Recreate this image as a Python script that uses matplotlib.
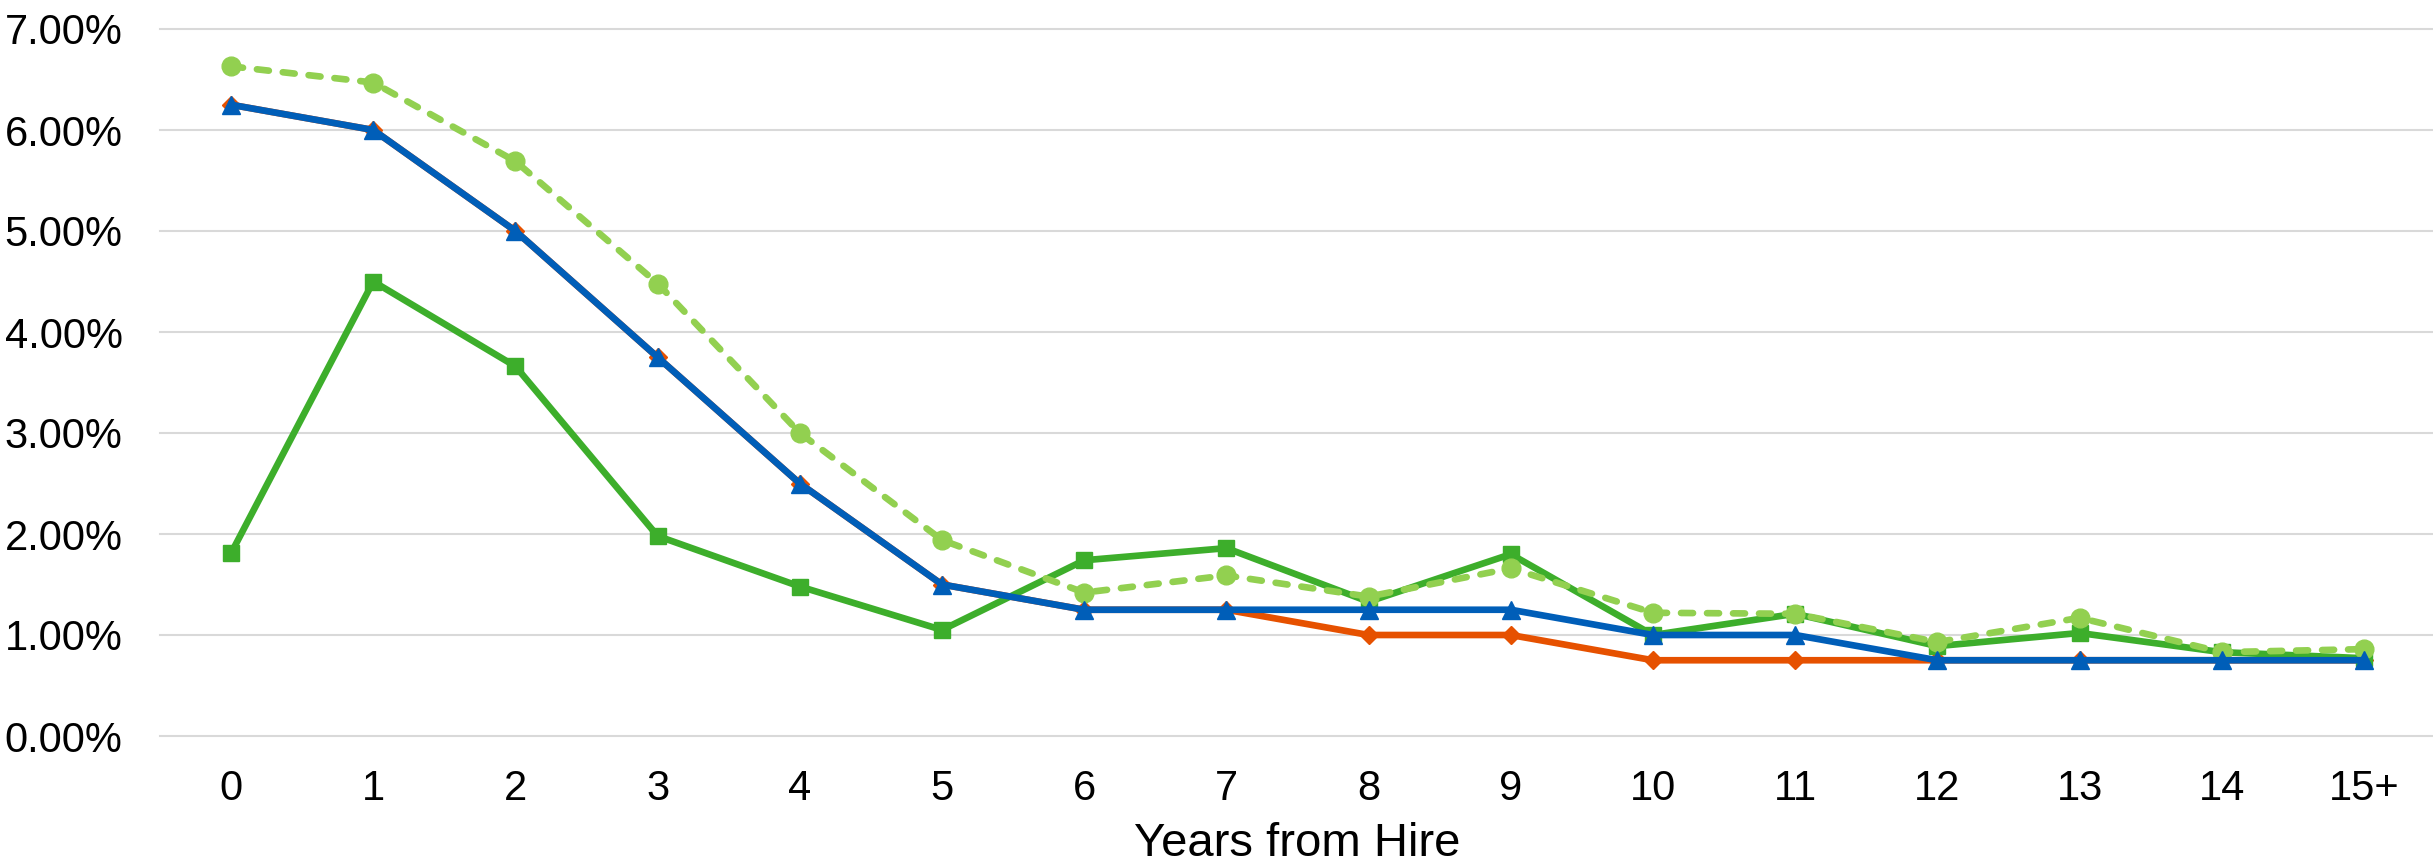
import matplotlib
matplotlib.use("Agg")
import matplotlib.pyplot as plt
from matplotlib.ticker import FuncFormatter, MultipleLocator

# Years from hire (categorical x axis)
categories = ["0", "1", "2", "3", "4", "5", "6", "7", "8", "9",
              "10", "11", "12", "13", "14", "15+"]

# Rates in percent
orange_rates = [6.25, 6.00, 5.00, 3.75, 2.50, 1.50, 1.25, 1.25, 1.00, 1.00,
                0.75, 0.75, 0.75, 0.75, 0.75, 0.75]
blue_rates = [6.25, 6.00, 5.00, 3.75, 2.50, 1.50, 1.25, 1.25, 1.25, 1.25,
              1.00, 1.00, 0.75, 0.75, 0.75, 0.75]
green_rates = [1.81, 4.50, 3.66, 1.98, 1.48, 1.05, 1.74, 1.86, 1.33, 1.80,
               1.00, 1.21, 0.89, 1.02, 0.83, 0.77]
lightgreen_rates = [6.63, 6.47, 5.69, 4.48, 3.00, 1.94, 1.42, 1.59, 1.38, 1.66,
                    1.22, 1.21, 0.93, 1.17, 0.83, 0.86]

plt.rcParams["font.family"] = ["Liberation Sans", "DejaVu Sans"]

W, H = 2433, 866
fig = plt.figure(figsize=(W / 100, H / 100), dpi=100)
left, right, top, bottom = 160, 2435, 29, 736
ax = fig.add_axes([left / W, (H - bottom) / H, (right - left) / W, (bottom - top) / H])

x = list(range(len(categories)))
lw = 4.8

ax.plot(x, orange_rates, color="#E65100", lw=lw, marker="D", ms=9.5,
        zorder=3)
ax.plot(x, green_rates, color="#3DAE2B", lw=lw, marker="s", ms=12, zorder=4)
ax.plot(x, lightgreen_rates, color="#92D050", lw=lw, marker="o", ms=13.5,
        dashes=(1.8, 2.1), dash_capstyle="round", zorder=5)
ax.plot(x, blue_rates, color="#005EB8", lw=lw, marker="^", ms=13, zorder=6)

ax.set_xlim(-0.5, len(categories) - 0.5)
ax.set_ylim(0, 7)
ax.set_xticks(x)
ax.set_xticklabels(categories)
ax.yaxis.set_major_locator(MultipleLocator(1))
ax.yaxis.set_major_formatter(FuncFormatter(lambda v, _: f"{v:.2f}%"))

ax.grid(axis="y", color="#D9D9D9", lw=1.5)
ax.set_axisbelow(True)
for gl in ax.get_ygridlines():
    gl.set_clip_on(False)

for s in ax.spines.values():
    s.set_visible(False)
ax.tick_params(axis="both", length=0, labelsize=30, colors="black")
ax.tick_params(axis="y", pad=27)
ax.tick_params(axis="x", pad=24)

ax.set_xlabel("Years from Hire", fontsize=34, labelpad=9)

fig.savefig("out.png", dpi=100, facecolor="white")
